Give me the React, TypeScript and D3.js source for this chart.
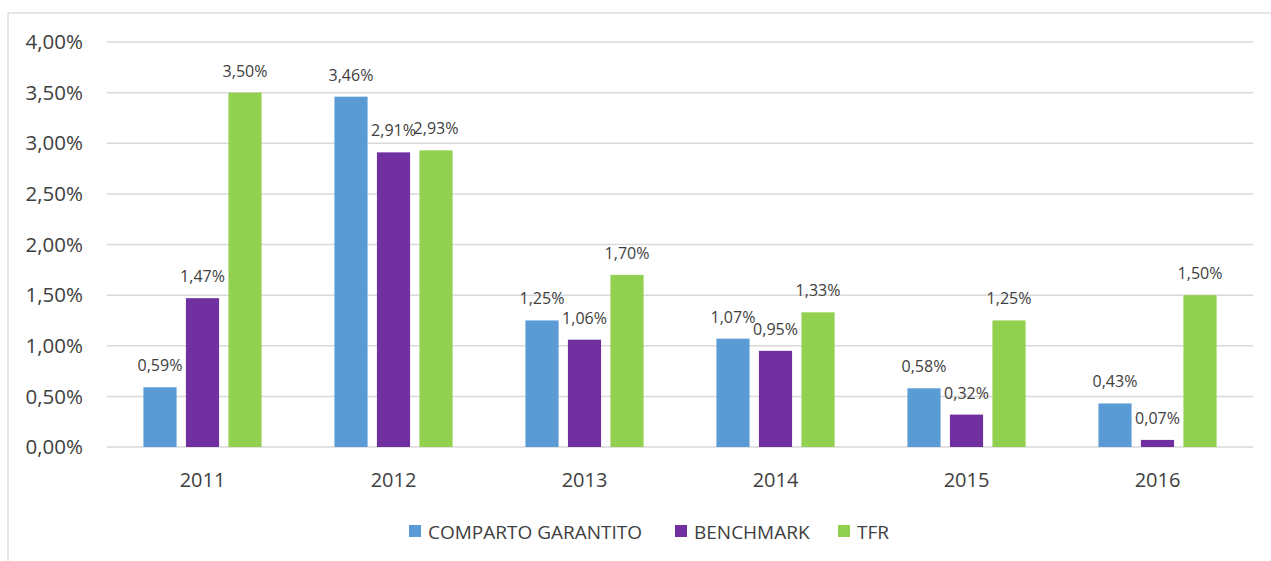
import React from 'react';
import * as d3 from 'd3';

// chart data
const years = ['2011', '2012', '2013', '2014', '2015', '2016'];
const seriesNames = ['COMPARTO GARANTITO', 'BENCHMARK', 'TFR'];
const comparto = [0.59, 3.46, 1.25, 1.07, 0.58, 0.43];
const benchmark = [1.47, 2.91, 1.06, 0.95, 0.32, 0.07];
const tfr = [3.5, 2.93, 1.7, 1.33, 1.25, 1.5];
const yTicks = [0, 0.5, 1, 1.5, 2, 2.5, 3, 3.5, 4];
const colors = ['#5B9BD5', '#7030A0', '#92D050'];

const W = 1271;
const H = 561;
const font = '"Open Sans", sans-serif';
const textColor = '#404040';

const fmt = (v: number) => v.toFixed(2).replace('.', ',') + '%';

const App = () => {
  const values = [comparto, benchmark, tfr];

  const x0 = d3.scaleBand().domain(years).range([107, 1253]);
  const x1 = d3
    .scaleBand()
    .domain(seriesNames)
    .range([0, x0.bandwidth()])
    .paddingInner(0.22)
    .paddingOuter(0.857);
  const y = d3.scaleLinear().domain([0, 4]).range([447, 42]);

  // legend layout
  const legend = [
    { name: seriesNames[0], x: 409 },
    { name: seriesNames[1], x: 675 },
    { name: seriesNames[2], x: 838 },
  ];

  return (
    <svg
      width={W}
      height={H}
      style={{ position: 'absolute', left: 0, top: 0, background: '#fff' }}
      fontFamily={font}
    >
      {/* chart frame */}
      <rect x={8} y={13} width={1280} height={560} fill="#fff" stroke="#d9d9d9" strokeWidth={1.3} />

      {/* gridlines and y ticks */}
      {yTicks.map((t) => (
        <g key={t}>
          <line x1={107} x2={1253} y1={y(t)} y2={y(t)} stroke="#d9d9d9" strokeWidth={1.5} />
          <text
            x={83}
            y={y(t)}
            dy="0.35em"
            textAnchor="end"
            fontSize={20.5}
            fill={textColor}
          >
            {fmt(t)}
          </text>
        </g>
      ))}

      {/* bars */}
      {years.map((yr, i) => (
        <g key={yr} transform={`translate(${x0(yr)},0)`}>
          {seriesNames.map((s, j) => {
            const v = values[j][i];
            const bx = x1(s) as number;
            return (
              <g key={s}>
                <rect
                  x={bx}
                  y={y(v)}
                  width={x1.bandwidth()}
                  height={y(0) - y(v)}
                  fill={colors[j]}
                />
                <text
                  x={bx + x1.bandwidth() / 2}
                  y={y(v) - 16}
                  textAnchor="middle"
                  fontSize={16}
                  fill={textColor}
                >
                  {fmt(v)}
                </text>
              </g>
            );
          })}
          <text
            x={x0.bandwidth() / 2}
            y={487}
            textAnchor="middle"
            fontSize={20}
            fill={textColor}
          >
            {yr}
          </text>
        </g>
      ))}

      {/* legend */}
      {legend.map((l, j) => (
        <g key={l.name}>
          <rect x={l.x} y={525} width={12} height={12} fill={colors[j]} />
          <text x={l.x + 19} y={532} dy="0.35em" fontSize={19} fill={textColor}>
            {l.name}
          </text>
        </g>
      ))}
    </svg>
  );
};

export default App;
